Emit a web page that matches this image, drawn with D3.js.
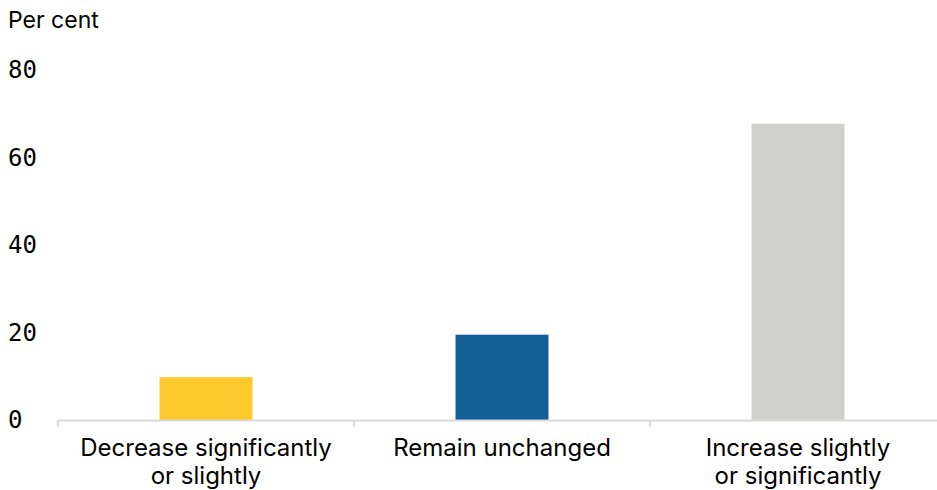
<!DOCTYPE html>
<html><head><meta charset="utf-8">
<script src="https://cdn.jsdelivr.net/npm/d3@7"></script>
<style>body{margin:0;background:#fff;} svg{display:block;}</style>
</head><body>
<svg id="c" width="937" height="490"></svg>
<script>
const categories = [["Decrease significantly","or slightly"],["Remain unchanged"],["Increase slightly","or significantly"]];
const values = [9.8, 19.5, 67.7];
const colors = ["#fdc82b", "#135e96", "#cfcfcb"];
const yTicks = [0, 20, 40, 60, 80];
const yUnit = "Per cent";

const svg = d3.select("#c");
const x = d3.scaleBand().domain(d3.range(categories.length)).range([58, 946]).padding(0);
const y = d3.scaleLinear().domain([0, 80]).range([420, 70]);
const barW = x.bandwidth() * 0.314;
const sans = "Inter, 'Noto Sans', sans-serif";
const mono = "'DejaVu Sans Mono', monospace";

svg.append("text").attr("x", 8).attr("y", 28).attr("font-family", sans).attr("font-size", 23).attr("fill", "#000").text(yUnit);

svg.selectAll("text.yt").data(yTicks).join("text").attr("class","yt")
  .attr("x", 8).attr("y", d => y(d)).attr("dy", "0.35em")
  .attr("font-family", mono).attr("font-size", 24).attr("fill", "#000").text(d => d);

svg.selectAll("rect.bar").data(values).join("rect").attr("class","bar")
  .attr("x", (d,i) => x(i) + x.bandwidth()/2 - barW/2)
  .attr("y", d => y(d)).attr("width", barW).attr("height", d => y(0) - y(d))
  .attr("fill", (d,i) => colors[i]);

const ax = svg.append("g").attr("transform", `translate(0,${y(0)})`)
  .call(d3.axisBottom(x).tickValues([]).tickSizeOuter(0));
ax.select(".domain").attr("stroke", "#d9d9d9").attr("stroke-width", 2);
const tickX = d3.range(categories.length).map(i => x(i));
ax.selectAll("line.sep").data(tickX).join("line").attr("class","sep")
  .attr("x1", d => d).attr("x2", d => d).attr("y1", 0).attr("y2", 7)
  .attr("stroke", "#d9d9d9").attr("stroke-width", 2);

const lab = svg.selectAll("text.cat").data(categories).join("text").attr("class","cat")
  .attr("font-family", sans).attr("font-size", 24).attr("fill", "#000").attr("text-anchor", "middle");
lab.selectAll("tspan").data((d,i) => d.map(t => ({t, i}))).join("tspan")
  .attr("x", d => x(d.i) + x.bandwidth()/2)
  .attr("y", (d,j) => 456 + j * 28).text(d => d.t);
</script>
</body></html>
